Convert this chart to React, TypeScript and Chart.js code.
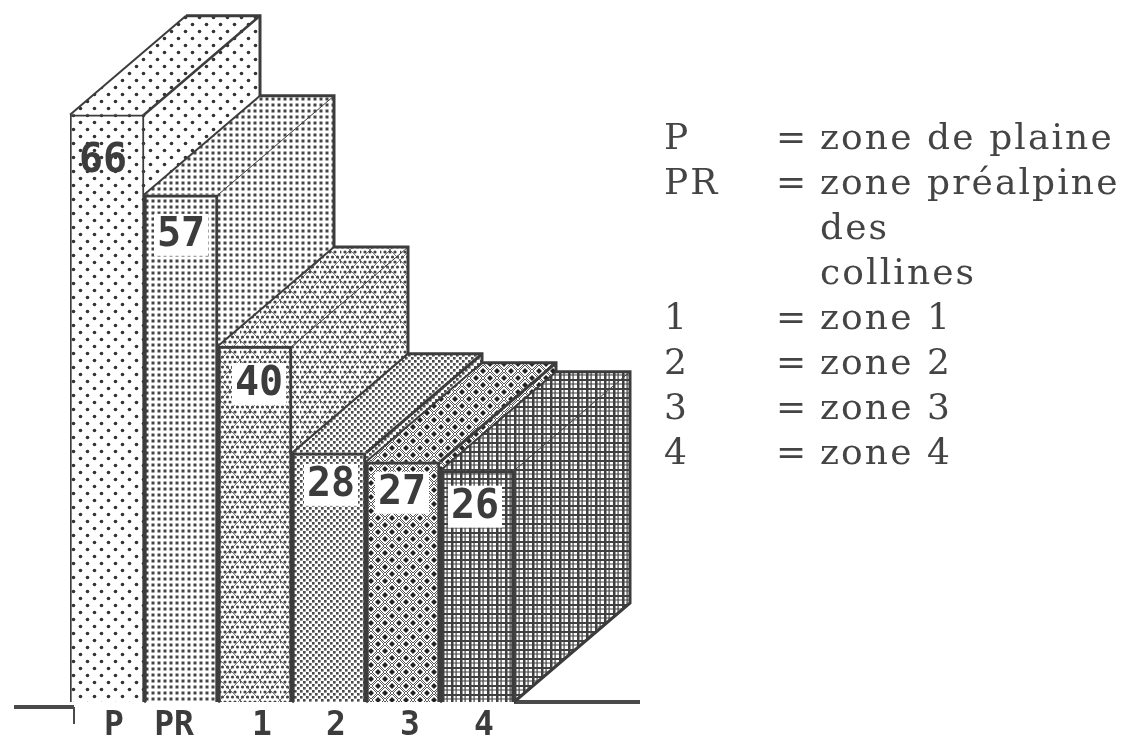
import React, { useEffect, useRef } from "react";
import { Chart, registerables } from "chart.js";

Chart.register(...registerables);

const categories = ["P", "PR", "1", "2", "3", "4"];
const shares = [66, 57, 40, 28, 27, 26];
const legendKeys = ["P", "PR", "", "", "1", "2", "3", "4"];
const legendSigns = ["=", "=", "", "", "=", "=", "=", "="];
const legendTexts = ["zone de plaine", "zone préalpine", "des", "collines", "zone 1", "zone 2", "zone 3", "zone 4"];

const INK = "#3c3c3c";
const DEPTH_X = 116;
const DEPTH_Y = 99;

type Painter = (g: CanvasRenderingContext2D, w: number, h: number) => void;

function makePattern(w: number, h: number, paint: Painter): CanvasPattern {
  const c = document.createElement("canvas");
  c.width = w;
  c.height = h;
  const g = c.getContext("2d") as CanvasRenderingContext2D;
  g.fillStyle = "#ffffff";
  g.fillRect(0, 0, w, h);
  g.fillStyle = "#333333";
  g.strokeStyle = "#333333";
  paint(g, w, h);
  return g.createPattern(c, "repeat") as CanvasPattern;
}

const dot = (g: CanvasRenderingContext2D, x: number, y: number, r: number) => {
  g.beginPath();
  g.arc(x, y, r, 0, Math.PI * 2);
  g.fill();
};

const diamond = (g: CanvasRenderingContext2D, x: number, y: number, r: number) => {
  g.beginPath();
  g.moveTo(x, y - r);
  g.lineTo(x + r, y);
  g.lineTo(x, y + r);
  g.lineTo(x - r, y);
  g.closePath();
};

const painters: { w: number; h: number; paint: Painter }[] = [
  { w: 14, h: 14, paint: (g) => { dot(g, 3.5, 3.5, 1.8); dot(g, 10.5, 10.5, 1.8); } },
  { w: 6, h: 6, paint: (g) => { g.fillStyle = "#444"; g.fillRect(1.5, 1.5, 3, 3); } },
  {
    w: 20, h: 20,
    paint: (g) => {
      g.fillStyle = "#444";
      for (let y = 0; y < 20; y += 5) for (let x = 0; x < 20; x += 5) dot(g, x + ((y / 5) % 2 ? 2.5 : 0), y + 2, 1.6);
      g.strokeStyle = "#555"; g.lineWidth = 0.8;
      g.beginPath(); g.moveTo(0, 0); g.lineTo(20, 20); g.moveTo(20, 0); g.lineTo(0, 20); g.stroke();
    },
  },
  { w: 6, h: 6, paint: (g) => { g.fillStyle = "#4a4a4a"; g.fillRect(0, 0, 2.6, 2.6); g.fillRect(3, 3, 2.6, 2.6); } },
  {
    w: 14, h: 14,
    paint: (g) => {
      g.strokeStyle = "#555"; g.lineWidth = 1;
      diamond(g, 7, 7, 6); g.stroke();
      diamond(g, 0, 0, 6); g.stroke();
      diamond(g, 14, 0, 6); g.stroke();
      diamond(g, 0, 14, 6); g.stroke();
      diamond(g, 14, 14, 6); g.stroke();
      g.fillStyle = "#222";
      diamond(g, 7, 7, 3); g.fill();
      diamond(g, 0, 0, 3); g.fill();
      diamond(g, 14, 0, 3); g.fill();
      diamond(g, 0, 14, 3); g.fill();
      diamond(g, 14, 14, 3); g.fill();
    },
  },
  {
    w: 9, h: 9,
    paint: (g) => {
      g.fillStyle = "#404040";
      g.fillRect(1, 0, 2.5, 9);
      g.fillRect(5.5, 0, 1.2, 9);
      g.fillRect(0, 1, 9, 2);
      g.fillRect(0, 5.5, 9, 1);
    },
  },
];

const edgeWidths = [2.5, 1, 1, 3, 3, 1];
const frontBorders = [2, 3, 3, 3, 3, 3];
const labelShift: [number, number][] = [[-4, 46], [0, 40], [4, 38], [2, 32], [-1, 31], [-2, 36]];
const labelBoxed = [false, true, true, true, true, true];
const labelFont = 'bold 40px "DejaVu Sans Mono"';

const cube = {
  id: "cube",
  beforeDraw(chart: any) {
    const items = chart.scales.x.getLabelItems();
    if (items[1] && !items[1].nudged) {
      items[1].options.translation[0] -= 14;
      items[1].nudged = true;
    }
  },
  beforeDatasetsDraw(chart: any) {
    const { ctx } = chart;
    const bars = chart.getDatasetMeta(0).data;
    const base = chart.scales.y.getPixelForValue(0);
    const fills = chart.data.datasets[0].backgroundColor;
    ctx.save();
    ctx.strokeStyle = "#4a4a4a";
    ctx.lineWidth = 4;
    ctx.beginPath();
    ctx.moveTo(14, base + 5);
    ctx.lineTo(bars[0].x - bars[0].width / 2 + 4, base + 5);
    ctx.moveTo(bars[5].x + bars[5].width / 2, base);
    ctx.lineTo(640, base);
    ctx.stroke();
    ctx.lineWidth = 2;
    ctx.beginPath();
    ctx.moveTo(bars[0].x - bars[0].width / 2 + 4, base + 5);
    ctx.lineTo(bars[0].x - bars[0].width / 2 + 4, base + 22);
    ctx.stroke();
    bars.forEach((bar: any, i: number) => {
      const x0 = bar.x - bar.width / 2;
      const x1 = bar.x + bar.width / 2;
      const top = bar.y;
      ctx.fillStyle = fills[i];
      ctx.strokeStyle = INK;
      ctx.lineJoin = "miter";
      ctx.beginPath();
      ctx.moveTo(x1, top);
      ctx.lineTo(x1 + DEPTH_X, top - DEPTH_Y);
      ctx.lineTo(x1 + DEPTH_X, base - DEPTH_Y);
      ctx.lineTo(x1, base);
      ctx.closePath();
      ctx.fill();
      ctx.beginPath();
      ctx.moveTo(x0, top);
      ctx.lineTo(x0 + DEPTH_X, top - DEPTH_Y);
      ctx.lineTo(x1 + DEPTH_X, top - DEPTH_Y);
      ctx.lineTo(x1, top);
      ctx.closePath();
      ctx.fill();
      ctx.lineWidth = 3;
      ctx.beginPath();
      ctx.moveTo(x0 + DEPTH_X, top - DEPTH_Y);
      ctx.lineTo(x1 + DEPTH_X, top - DEPTH_Y);
      ctx.lineTo(x1 + DEPTH_X, base - DEPTH_Y);
      ctx.lineTo(x1, base);
      ctx.stroke();
      ctx.lineWidth = 2;
      ctx.beginPath();
      ctx.moveTo(x0, top);
      ctx.lineTo(x0 + DEPTH_X, top - DEPTH_Y);
      ctx.stroke();
      ctx.lineWidth = edgeWidths[i];
      ctx.beginPath();
      ctx.moveTo(x1, top);
      ctx.lineTo(x1 + DEPTH_X, top - DEPTH_Y);
      ctx.stroke();
    });
    ctx.restore();
  },
  afterDatasetsDraw(chart: any) {
    const { ctx } = chart;
    const bars = chart.getDatasetMeta(0).data;
    const values = chart.data.datasets[0].data;
    ctx.save();
    ctx.font = labelFont;
    ctx.textAlign = "center";
    ctx.textBaseline = "middle";
    bars.forEach((bar: any, i: number) => {
      const cx = bar.x + labelShift[i][0];
      const cy = bar.y + labelShift[i][1];
      if (labelBoxed[i]) {
        ctx.fillStyle = "#ffffff";
        ctx.fillRect(cx - 27, cy - 21, 54, 42);
      }
      ctx.fillStyle = INK;
      ctx.fillText(String(values[i]), cx, cy + 1);
    });
    ctx.restore();
  },
};

export default function App() {
  const ref = useRef<HTMLCanvasElement | null>(null);
  useEffect(() => {
    const canvas = ref.current as HTMLCanvasElement;
    const fills = painters.map((p) => makePattern(p.w, p.h, p.paint));
    const chart = new Chart(canvas, {
      type: "bar",
      data: {
        labels: categories,
        datasets: [
          {
            data: shares,
            backgroundColor: fills as any,
            borderColor: INK,
            borderWidth: frontBorders,
            barPercentage: 1,
            categoryPercentage: 1,
          },
        ],
      },
      options: {
        animation: false,
        responsive: false,
        events: [],
        layout: { padding: { left: 70, right: 616, top: 8, bottom: 0 } },
        plugins: { legend: { display: false }, tooltip: { enabled: false }, title: { display: false } },
        scales: {
          x: {
            grid: { display: false, drawTicks: false },
            border: { display: false },
            afterFit: (s: any) => { s.height = 38; },
            ticks: {
              color: INK,
              padding: 5,
              labelOffset: 7,
              autoSkip: false,
              maxRotation: 0,
              font: { family: "DejaVu Sans Mono", size: 33, weight: "bold" },
            },
          },
          y: { display: false, min: 0, max: 78 },
        },
      },
      plugins: [cube],
    } as any);
    return () => chart.destroy();
  }, []);

  const legendStyle: React.CSSProperties = {
    position: "absolute",
    fontFamily: '"DejaVu Serif", serif',
    fontSize: 36,
    letterSpacing: 2.1,
    lineHeight: "45px",
    color: "#444",
    whiteSpace: "pre",
  };

  return (
    <div style={{ position: "fixed", left: 0, top: 0, width: 1130, height: 740, background: "#fff", overflow: "hidden" }}>
      <canvas ref={ref} width={1130} height={740} style={{ display: "block" }} />
      {legendTexts.map((t, i) => (
        <React.Fragment key={i}>
          <div style={{ ...legendStyle, left: 664, top: 114 + i * 45 }}>{legendKeys[i]}</div>
          <div style={{ ...legendStyle, left: 776, top: 114 + i * 45 }}>{legendSigns[i]}</div>
          <div style={{ ...legendStyle, left: 820, top: 114 + i * 45 }}>{t}</div>
        </React.Fragment>
      ))}
    </div>
  );
}
